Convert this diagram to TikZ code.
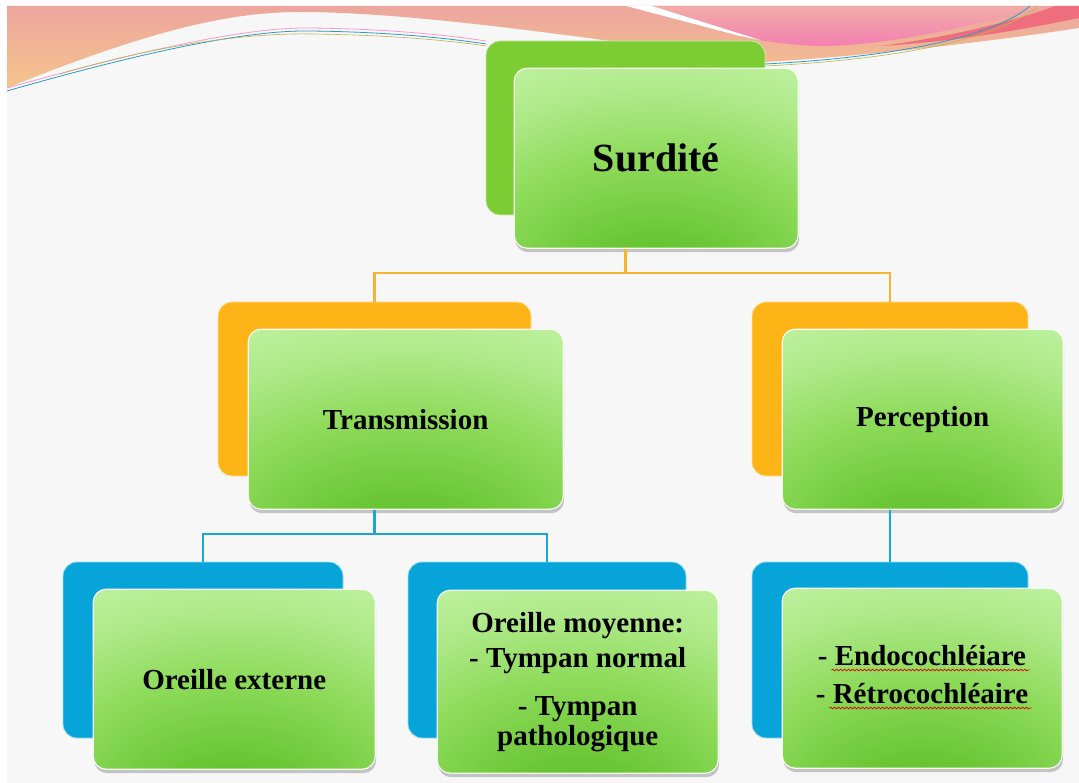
\documentclass[tikz,border=0pt]{standalone}
\usepackage{fontspec}
\setmainfont{Liberation Serif}
\usetikzlibrary{positioning,shadows,decorations.pathmorphing}

\definecolor{leafgreen}{RGB}{124,205,52}
\definecolor{amber}{RGB}{253,180,22}
\definecolor{skyblue}{RGB}{6,164,216}
\definecolor{palegreen}{RGB}{198,244,170}
\definecolor{midgreen}{RGB}{140,218,88}
\definecolor{deepgreen}{RGB}{84,185,30}
\definecolor{linkorange}{RGB}{246,180,48}
\definecolor{linkblue}{RGB}{28,166,214}
\definecolor{slidebg}{RGB}{247,247,247}
\definecolor{salmon}{RGB}{236,166,158}
\definecolor{peach}{RGB}{246,196,140}
\definecolor{rosepink}{RGB}{244,128,178}
\definecolor{lightrose}{RGB}{242,172,168}
\definecolor{coral}{RGB}{238,110,126}

\pgfdeclareradialshading{boxglow}{\pgfpoint{0bp}{-42bp}}{%
  color(0bp)=(deepgreen); color(12bp)=(deepgreen!70!midgreen);
  color(30bp)=(midgreen); color(44bp)=(palegreen!60!midgreen); color(58bp)=(palegreen);
  color(110bp)=(palegreen!70!white)}

\tikzset{
  backbox/.style={fill=#1, draw=white!60!#1, line width=0.8pt, rounded corners=14pt,
    minimum height=174pt, inner sep=0pt},
  frontbox/.style={shading=boxglow, draw=white!80!palegreen, line width=1.2pt,
    rounded corners=13pt, minimum height=180pt, minimum width=281pt, inner sep=0pt,
    drop shadow={shadow xshift=1pt, shadow yshift=-4pt, opacity=0.3, fill=black!70},
    font=\bfseries\fontsize{29}{33}\selectfont, align=center, anchor=north west},
  boxtext/.style={font=\bfseries\fontsize{29}{33}\selectfont, anchor=base},
  orangelink/.style={draw=linkorange, line width=2.2pt},
  bluelink/.style={draw=linkblue, line width=2.2pt},
  spell/.style={draw=red!85!black, line width=0.7pt,
    decorate, decoration={snake, amplitude=0.9pt, segment length=4pt}}
}

\begin{document}
\begin{tikzpicture}[x=1pt, y=-1pt]
\useasboundingbox (0,0) rectangle (1079,783);
\fill[white] (0,0) rectangle (1079,783);
\fill[slidebg] (7,6) rectangle (1079,783);

% top swoosh
\shade[top color=salmon, bottom color=peach]
  (7,6) -- (1079,6) -- (1079,28) .. controls (1000,40) and (880,55) .. (765,62)
  .. controls (600,40) and (420,12) .. (300,12) .. controls (230,12) and (150,30) .. (7,88) -- cycle;
\shade[top color=lightrose, bottom color=rosepink]
  (652,6) -- (1045,6) .. controls (960,30) and (880,46) .. (820,46) .. controls (790,45) and (770,42) .. (760,40) -- cycle;
\fill[white] (626,6) -- (652,6) -- (760,40) -- (740,36) -- cycle;
\fill[coral] (1079,6) -- (1079,18) .. controls (1010,32) and (950,42) .. (880,46)
  .. controls (960,36) and (1030,16) .. (1055,6) -- cycle;
\draw[cyan!60!teal, line width=0.8pt] (7,91) .. controls (150,50) and (250,30) .. (310,31) .. controls (400,32) and (460,40) .. (486,44);
\draw[magenta!40, line width=0.8pt] (7,88) .. controls (150,48) and (250,27) .. (310,28) .. controls (400,29) and (460,37) .. (486,41);
\draw[olive!60, line width=0.6pt] (60,74) .. controls (160,44) and (250,33) .. (310,34) .. controls (400,35) and (460,42) .. (486,46);
\draw[cyan!60!teal, line width=0.8pt] (765,64) .. controls (880,58) and (990,40) .. (1030,6);
\draw[olive!60, line width=0.6pt] (765,66) .. controls (885,60) and (995,42) .. (1038,6);

% level 1
\node[backbox=leafgreen, minimum width=279pt] (surBack) at (625.5,128) {};
\node[frontbox, minimum width=284pt] (surdite) at ([shift={(28,27)}]surBack.north west)
  {\fontsize{40}{46}\selectfont Surdité};

% level 2
\node[backbox=amber, minimum width=313pt] (transBack) at (374.5,389) {};
\node[frontbox, minimum width=315pt] (transmission) at ([shift={(30,27)}]transBack.north west) {Transmission};
\node[backbox=amber, minimum width=276pt] (percBack) at (890,389) {};
\node[frontbox] (perception) at ([shift={(30,27)}]percBack.north west) {Perception};

% level 3
\node[backbox=skyblue, minimum width=280pt, minimum height=176pt] (extBack) at (203,650) {};
\node[frontbox, minimum width=282pt] (externe) at ([shift={(30,27)}]extBack.north west) {Oreille externe};
\node[backbox=skyblue, minimum width=278pt, minimum height=176pt] (moyBack) at (547,650) {};
\node[frontbox, minimum height=183pt] (moyenne) at ([shift={(29,28)}]moyBack.north west)
  {Oreille moyenne:\\[2pt] - Tympan normal\\[15pt] - Tympan\\[-3pt] pathologique};
\node[backbox=skyblue, minimum width=276pt, minimum height=176pt] (innerBack) at (890,650) {};
\node[frontbox, minimum width=280pt] (interne) at ([shift={(30,26)}]innerBack.north west) {};
\node[boxtext] (endo) at (922,665) {- Endocochléiare};
\node[boxtext] (retro) at (922,703) {- Rétrocochléaire};
\draw[spell] ([xshift=17pt, yshift=-5pt]endo.base west) -- ([yshift=-5pt]endo.base east);
\draw[spell] ([xshift=17pt, yshift=-5pt]retro.base west) -- ([yshift=-5pt]retro.base east);

% links
\coordinate (split1) at (625.5,273);
\coordinate (split2) at (374.5,534);
\draw[orangelink] (surdite.south -| split1) -- (split1) -| (transBack.north);
\draw[orangelink] (split1) -| (percBack.north);
\draw[bluelink] (transmission.south -| split2) -- (split2) -| (extBack.north);
\draw[bluelink] (split2) -| (moyBack.north);
\draw[bluelink] (perception.south -| percBack) -- (innerBack.north);
\end{tikzpicture}
\end{document}
